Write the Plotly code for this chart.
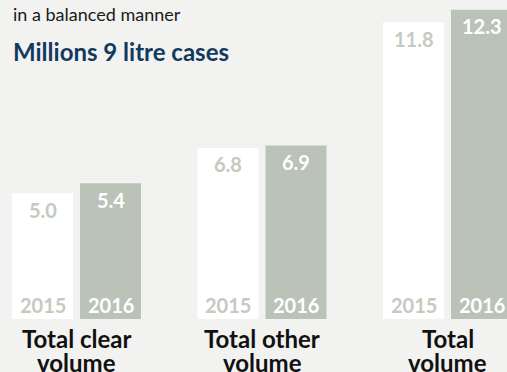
import plotly.graph_objects as go

categories = [["Total clear", "volume"], ["Total other", "volume"], ["Total", "volume"]]
years = ["2015", "2016"]
values_2015 = [5.0, 6.8, 11.8]
values_2016 = [5.4, 6.9, 12.3]
subtitle = "in a balanced manner"
title = "Millions 9 litre cases"

BG = "#f2f2f0"
C2015 = "#ffffff"
C2016 = "#bbc3b8"
TXT2015 = "#c3cbc0"
TXT2016 = "#ffffff"
FONT = "Lato"

xs = [0, 1, 2]
off = 0.1833
bw = 0.329

fig = go.Figure()
series = [(years[0], values_2015, C2015, TXT2015, -off), (years[1], values_2016, C2016, TXT2016, off)]
for name, vals, col, tcol, o in series:
    xpos = [x + o for x in xs]
    fig.add_trace(go.Bar(x=xpos, y=vals, width=bw, marker=dict(color=col, line=dict(width=0)),
                         hoverinfo="skip", showlegend=False))
    for xp, v in zip(xpos, vals):
        fig.add_annotation(x=xp, y=v, text=f"<b>{v:.1f}</b>", showarrow=False, yanchor="middle",
                           yshift=-16.5, font=dict(family=FONT, size=20, color=tcol))
        fig.add_annotation(x=xp, y=0, text=f"<b>{name}</b>", showarrow=False, yanchor="middle",
                           yshift=14.5, font=dict(family=FONT, size=20, color=tcol))

for x, lines in zip(xs, categories):
    for i, line in enumerate(lines):
        fig.add_annotation(x=x, y=0, text=f"<b>{line}</b>", showarrow=False, yanchor="middle",
                           yshift=-19 - 24 * i, font=dict(family=FONT, size=24, color="#111111"))

H = 319
fig.add_annotation(xref="paper", yref="paper", x=0, xshift=11, y=(H - 14) / H, xanchor="left",
                   yanchor="middle", text=subtitle, showarrow=False,
                   font=dict(family=FONT, size=18, color="#1a1a1a"))
fig.add_annotation(xref="paper", yref="paper", x=0, xshift=11, y=(H - 52) / H, xanchor="left",
                   yanchor="middle", text=f"<b>{title}</b>", showarrow=False,
                   font=dict(family=FONT, size=24, color="#123a5e"))

fig.update_layout(
    width=507, height=372,
    margin=dict(l=0, r=0, t=0, b=372 - H),
    paper_bgcolor=BG, plot_bgcolor=BG,
    barmode="overlay",
    xaxis=dict(range=[-76.5 / 185.5, (507 - 76.5) / 185.5], visible=False, fixedrange=True),
    yaxis=dict(range=[0, H / 25.15], visible=False, fixedrange=True),
)
fig.write_html("out.html", config={"displayModeBar": False})
